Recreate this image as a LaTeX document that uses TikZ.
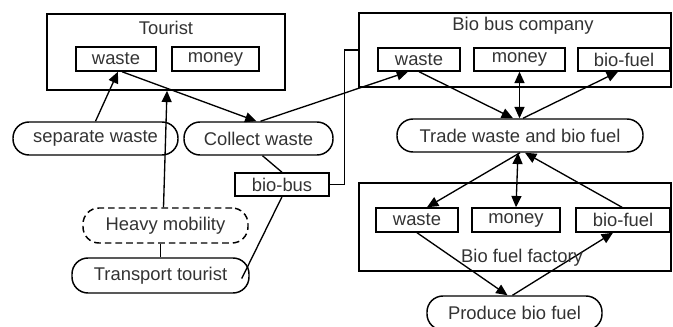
\documentclass[tikz,border=0pt]{standalone}
\usepackage{fontspec}
\setmainfont{Liberation Sans}
\usetikzlibrary{arrows.meta,calc}
\begin{document}
\begin{tikzpicture}[x=0.75pt,y=-0.75pt,
  every node/.style={font=\fontsize{13.8}{16}\selectfont, text=black!80},
  sized/.style 2 args={minimum width=#1, minimum height=#2},
  frame/.style={draw, line width=1.1pt, inner sep=0pt},
  item/.style={draw, line width=1.1pt, inner sep=0pt},
  act/.style={draw, line width=1.1pt, inner sep=0pt, rounded corners=12pt},
  hidden/.style={act, dashed, dash pattern=on 5pt off 3pt},
  conn/.style={line width=1pt},
  tip/.tip={Triangle[length=8.5pt,width=7.5pt]},
  arr/.style={conn, -tip},
  twoway/.style={conn, tip-tip}]
\useasboundingbox (0,0) rectangle (673,327);

% Tourist
\node[frame, sized={178.5pt}{57pt}] (tour) at (166,52) {};
\node (tourlbl) at (166,28) {Tourist};
\node[item, sized={60pt}{18pt}] (tw) at (116,59) {waste};
\node[item, sized={65.25pt}{18pt}] (tm) at (215.5,59) {money};

% activities on the left
\node[act, sized={123.75pt}{24.75pt}] (sep) at (95.5,138.5) {separate waste};
\node[act, sized={111.75pt}{24.75pt}] (cw) at (258.5,138.5) {Collect waste};
\node[item, sized={70.5pt}{17.25pt}] (bb) at (282,184.5) {bio-bus};
\node[hidden, sized={123.75pt}{26.25pt}] (hm) at (165.5,225.5) {Heavy mobility};
\node[act, sized={132.75pt}{26.25pt}] (tt) at (160.5,275.5) {Transport tourist};

% Bio bus company
\node[frame, sized={234pt}{55.5pt}] (bbc) at (515,50) {};
\node (bbclbl) at (523,26) {Bio bus company};
\node[item, sized={61.5pt}{17.25pt}] (bw) at (419,59.5) {waste};
\node[item, sized={68.25pt}{17.25pt}] (bm) at (519.5,59.5) {money};
\node[item, sized={69pt}{17.25pt}] (bf) at (624,59.5) {bio-fuel};

\node[act, sized={184.5pt}{24.75pt}] (tr) at (520,135.5) {Trade waste and bio fuel};

% Bio fuel factory
\node[frame, sized={234pt}{66pt}] (bff) at (515,227) {};
\node[item, sized={61.5pt}{18pt}] (fw) at (417,220) {waste};
\node[item, sized={66pt}{18pt}] (fm) at (516,220) {money};
\node[item, sized={70.5pt}{18pt}] (fb) at (623,220) {bio-fuel};

\node[act, sized={131.25pt}{25.5pt}] (pb) at (514.5,313) {Produce bio fuel};

% connectors
\draw[arr] (sep.north) -- ($(tw.south)+(2,0)$);
\draw[arr] ($(tw.south)+(6,0)$) -- ($(cw.north)+(-2,0)$);
\draw[arr] ($(cw.north)+(2,0)$) -- ($(bw.south)+(-11,0)$);
\draw[arr] ($(hm.north)+(-2,0)$) -- ($(tour.south)+(1,0)$);
\draw[conn] (hm.south -| tt.north) -- (tt.north);
\draw[conn] ($(cw.south)+(4,0)$) -- (bb.north);
\draw[conn] (bb.south) -- ($(tt.east)+(-8,3)$);
\draw[conn] (bb.east) -- ++(15,0) |- (bbc.west);

\draw[arr] (bw.south) -- ($(tr.north)+(-7,0)$);
\draw[twoway] (bm.south) -- (bm.south |- tr.north);
\draw[arr] ($(tr.north)+(3,0)$) -- ($(bf.south)+(-6,0)$);

\draw[arr] (tr.south) -- ($(fw.north)+(10,0)$);
\draw[twoway] ($(tr.south)+(-2,0)$) -- (fm.north);
\draw[arr] ($(fb.north)+(-1,0)$) -- ($(tr.south)+(5,0)$);

\draw[arr] (fw.south) -- ($(pb.north)+(-7,0)$);
\draw[arr] ($(pb.north)+(-2,0)$) -- ($(fb.south)+(-10,0)$);

\node (bfflbl) at (522,258) {Bio fuel factory};
\end{tikzpicture}
\end{document}
